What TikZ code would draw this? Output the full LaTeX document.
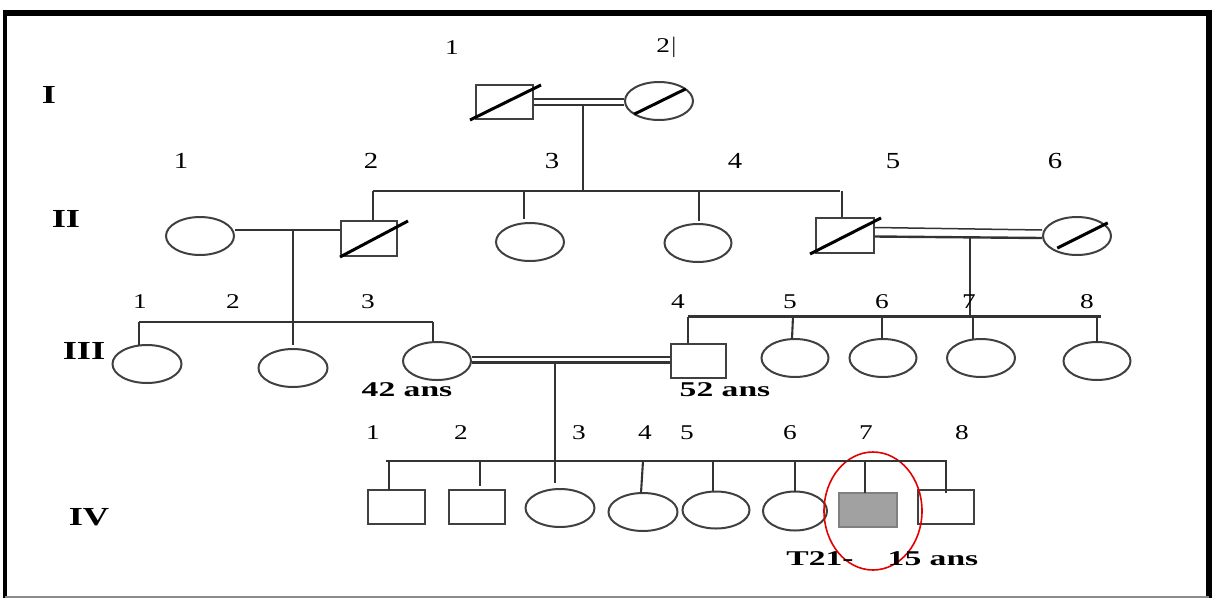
\documentclass[tikz,border=0pt]{standalone}
\usepackage{fontspec}
\usepackage{graphicx}
\setmainfont{Liberation Serif}
\usetikzlibrary{shapes.geometric,calc}
\newcommand\hstretch[2]{\scalebox{#1}[1]{#2}}
\begin{document}
\begin{tikzpicture}[x=1pt,y=-1pt,
 line/.style={line width=2.1pt, draw=black!80},
 male/.style={rectangle, draw=black!75, line width=2pt, minimum width=57pt, minimum height=34pt, inner sep=0pt},
 female/.style={ellipse, draw=black!75, line width=2pt, minimum width=68pt, minimum height=38pt, inner sep=0pt},
 affected/.style={male, fill=black!37, draw=black!50},
 dead/.style={line width=3pt, draw=black},
 num/.style={font=\fontsize{21}{21}\selectfont, inner sep=0pt},
 bignum/.style={font=\fontsize{23}{23}\selectfont, inner sep=0pt},
 gen/.style={font=\fontsize{26}{26}\selectfont\bfseries, inner sep=0pt},
 age/.style={font=\fontsize{21}{21}\selectfont\bfseries, inner sep=0pt}]
\useasboundingbox (0,0) rectangle (1219,598);
% frame
\draw[line width=6pt] (3,13) -- (1212,13);
\draw[line width=4pt] (5,10) -- (5,598);
\draw[line width=6pt] (1209,10) -- (1209,598);
\draw[black!45, line width=1.5pt] (5,597) -- (1209,597);

% generation labels
\node[gen] (gI) at (49,95) {\hstretch{1.4}{I}};
\node[gen] (gII) at (66,219) {\hstretch{1.4}{II}};
\node[gen] (gIII) at (84,351) {\hstretch{1.4}{III}};
\node[gen] (gIV) at (89,517) {\hstretch{1.4}{IV}};

% ---------- Generation I ----------
\node[num] (nI1) at (452,48) {\hstretch{1.3}{1}};
\node[num] (nI2) at (667,47) {\hstretch{1.3}{2$|$}};
\node[male] (I1) at (504.5,102) {};
\node[female] (I2) at (659,101) {};
\draw[dead] ($(I1.south west)+(-5,0)$) -- ($(I1.north east)+(7,1)$);
\draw[dead] ($(I2.south west)+(0,-1)$) -- ($(I2.north east)+(2,2)$);
\draw[line, line width=1.5pt] ($(I1.east)+(0,-3)$) -- ($(I2.west)+(0,-2)$);
\draw[line, line width=2.4pt] ($(I1.east)+(0,3)$) -- ($(I2.west)+(0,4)$);
\coordinate (mI) at (583,105);
\coordinate (sII) at (583,191);
\draw[line] (mI) -- (sII);

% ---------- Generation II ----------
\foreach \x/\n in {181/1,371/2,552/3,735/4,893/5,1055/6}
  \node[bignum] (nII\n) at (\x,161) {\hstretch{1.25}{\n}};
\node[female] (II1) at (200,236) {};
\node[male, minimum width=56pt, minimum height=35pt] (II2) at (369,238.5) {};
\node[female] (II3) at (530,242) {};
\node[female, minimum width=67pt] (II4) at (698,243) {};
\node[male, minimum width=58pt, minimum height=35pt] (II5) at (845,235.5) {};
\node[female] (II6) at (1077,236) {};
\draw[dead] ($(II2.south west)+(0,0)$) -- ($(II2.north east)+(10,1)$);
\draw[dead] ($(II5.south west)+(-5,0)$) -- ($(II5.north east)+(6,1)$);
\draw[dead] ($(II6.south west)+(5,-2)$) -- ($(II6.north east)+(6,1)$);
\coordinate (sIIL) at (373,191);
\coordinate (sIIR) at (840,191);
\draw[line] (sIIL) -- (sIIR);
\coordinate (d3) at (524,191);
\coordinate (d4) at (699,191);
\coordinate (d5) at (842,191);
\draw[line] (sIIL) -- (sIIL |- II2.north);
\draw[line] (d3) -- ($(d3 |- II3.north)+(0,-3)$);
\draw[line] (d4) -- ($(d4 |- II4.north)+(0,-2)$);
\draw[line] (d5) -- (d5 |- II5.north);
% marriage II1 - II2
\coordinate (mIIa) at ($(II1.east)+(0,-6)$);
\coordinate (mIIb) at (mIIa -| II2.west);
\draw[line] (mIIa) -- (mIIb);
\coordinate (mII) at (293,230);
\coordinate (dIII2) at (293,345);
\draw[line] (mII) -- (dIII2);
% consanguineous II5 - II6
\draw[line, line width=1.5pt] ($(II5.east)+(0,-8)$) -- ($(II6.west)+(0,-6)$);
\draw[line, line width=2.4pt] ($(II5.east)+(0,1)$) -- ($(II6.west)+(0,2)$);
\coordinate (mII2) at (970,237.5);
\coordinate (sIIIb) at (970,317);
\draw[line] (mII2) -- (sIIIb);

% ---------- Generation III ----------
\foreach \x/\n in {140/1,233/2,368/3,678/4,790/5,882/6,969/7,1087/8}
  \node[num] (nIII\n) at (\x,302) {\hstretch{1.3}{\n}};
\node[female, minimum width=69pt] (III1) at (147,364) {};
\node[female, minimum width=69pt] (III2) at (293,368) {};
\node[female] (III3) at (437,361) {};
\node[male, minimum width=55pt] (III4) at (698.5,361) {};
\node[female, minimum width=67pt] (III5) at (795,358) {};
\node[female, minimum width=67pt] (III6) at (883,358) {};
\node[female] (III7) at (981,358) {};
\node[female, minimum width=67pt] (III8) at (1097,361) {};
\node[age] (a42) at (407,390) {\hstretch{1.6}{42 ans}};
\node[age] (a52) at (725,390) {\hstretch{1.6}{52 ans}};
\coordinate (sL1) at (139,322);
\coordinate (sL3) at (433,322);
\draw[line] (sL1) -- (sL3);
\draw[line] (sL1) -- ($(sL1 |- III1.north)+(0,1)$);
\draw[line] (sL3) -- (sL3 |- III3.north);
\coordinate (sR4) at (688,316.5);
\coordinate (sR8) at (1101,316.5);
\draw[line] (sR4) -- (sR8);
\draw[line] (sR4) -- (sR4 |- III4.north);
\draw[line] (793,316.5) -- (792,339);
\draw[line] (882,316.5) -- (882 ,339);
\draw[line] (973,316.5) -- (973,339);
\draw[line] (1097,316.5) -- (1097,343);
% consanguineous III3 - III4
\draw[line, line width=1.5pt] ($(III3.east)+(0,-4)$) -- ($(III4.west)+(0,-4)$);
\draw[line, line width=2.4pt] ($(III3.east)+(0,1.5)$) -- ($(III4.west)+(0,1.5)$);
\coordinate (mIII) at (555,362);
\coordinate (dIV3) at (555,483);
\draw[line] (mIII) -- (dIV3);

% ---------- Generation IV ----------
\foreach \x/\n in {373/1,461/2,579/3,645/4,687/5,790/6,866/7,962/8}
  \node[num] (nIV\n) at (\x,433) {\hstretch{1.3}{\n}};
\node[male] (IV1) at (396.5,507) {};
\node[male, minimum width=56pt] (IV2) at (477,507) {};
\node[female, minimum width=69pt] (IV3) at (560,508) {};
\node[female, minimum width=69pt] (IV4) at (643,512) {};
\node[female, minimum width=67pt, minimum height=37pt] (IV5) at (716,510) {};
\node[female, minimum width=64pt, minimum height=39pt] (IV6) at (795,511) {};
\node[affected, minimum width=58pt] (IV7) at (868,510) {};
\node[male, minimum width=56pt] (IV8) at (946,507) {};
\node[ellipse, draw=red!90!black, line width=1.6pt, minimum width=98pt, minimum height=118pt, inner sep=0pt] (circ) at (873,511) {};
\node[age] (t21) at (820,559) {\hstretch{1.6}{T21-}};
\node[age] (a15) at (933,559) {\hstretch{1.6}{15 ans}};
\coordinate (sIVL) at (386,461);
\coordinate (sIVR) at (947,461);
\draw[line] (sIVL) -- (sIVR);
\draw[line] (389,461) -- (389,490);
\draw[line] (480,461) -- (480,486);
\draw[line] (643,461) -- (641,493);
\draw[line] (713,461) -- (713,491);
\draw[line] (795,461) -- (795,492);
\draw[line] (865,461) -- (865,493);
\draw[line] (946,461) -- (946,493);
\end{tikzpicture}
\end{document}
